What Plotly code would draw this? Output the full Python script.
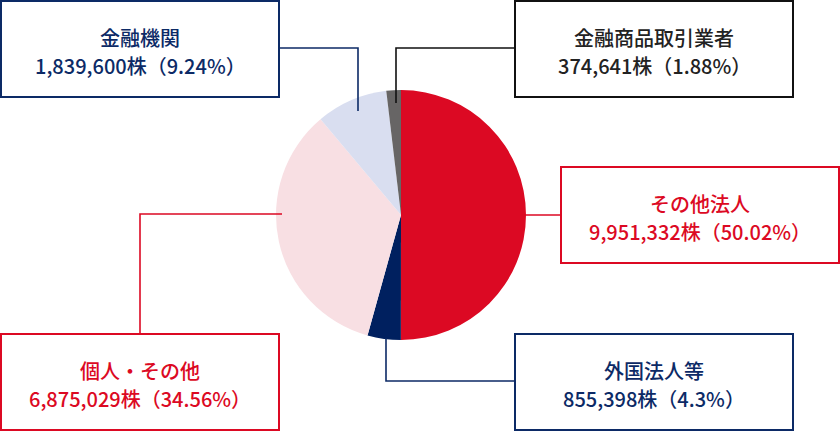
import plotly.graph_objects as go

categories = ["その他法人", "外国法人等", "個人・その他", "金融機関", "金融商品取引業者"]
shares = [9951332, 855398, 6875029, 1839600, 374641]
percent_labels = ["50.02%", "4.3%", "34.56%", "9.24%", "1.88%"]

slice_colors = ["#dc0923", "#00205f", "#f8dfe3", "#d9def0", "#676565"]
text_colors = ["#dc0923", "#0c2a66", "#dc0923", "#0c2a66", "#222222"]
border_colors = ["#dc0923", "#0c2a66", "#dc0923", "#0c2a66", "#111111"]

W, H = 840, 431
cx, cy, r = 401, 215, 125

def px(x):
    return x / W

def py(y):
    return 1 - y / H

fig = go.Figure()
fig.add_trace(go.Pie(
    labels=categories,
    values=shares,
    sort=False,
    direction="clockwise",
    rotation=0,
    marker=dict(colors=slice_colors, line=dict(width=0)),
    textinfo="none",
    hoverinfo="label+value+percent",
    domain=dict(x=[px(cx - r), px(cx + r)], y=[py(cy + r), py(cy - r)]),
    showlegend=False,
))

# box geometry (pixels): x0, y0, x1, y1
boxes = [
    (561, 167, 839, 263),   # その他法人
    (515, 334, 793, 430),   # 外国法人等
    (1, 334, 279, 430),     # 個人・その他
    (1, 1, 279, 97),        # 金融機関
    (515, 1, 793, 97),      # 金融商品取引業者
]
# connector paths (pixels)
connectors = [
    [(520, 215), (561, 215)],
    [(386, 338), (386, 381), (515, 381)],
    [(140, 334), (140, 214), (282, 214)],
    [(279, 48), (358, 48), (358, 111)],
    [(515, 48), (396, 48), (396, 103)],
]

shapes = []
for (x0, y0, x1, y1), bc in zip(boxes, border_colors):
    shapes.append(dict(type="rect", xref="paper", yref="paper",
                       x0=px(x0), x1=px(x1), y0=py(y1), y1=py(y0),
                       line=dict(color=bc, width=2), fillcolor="rgba(0,0,0,0)"))
for pts, bc in zip(connectors, border_colors):
    path = "M " + " L ".join(f"{px(x)},{py(y)}" for x, y in pts)
    shapes.append(dict(type="path", xref="paper", yref="paper", path=path,
                       line=dict(color=bc, width=1.6)))

annotations = []
font_family = "Noto Sans CJK JP"
for cat, val, pct, (x0, y0, x1, y1), tc in zip(categories, shares, percent_labels, boxes, text_colors):
    mx = (x0 + x1) / 2
    my = (y0 + y1) / 2
    annotations.append(dict(text=cat, x=px(mx), y=py(my - 11.5), xref="paper", yref="paper",
                            showarrow=False, xanchor="center", yanchor="middle",
                            font=dict(family=font_family, size=20, color=tc, weight=500)))
    annotations.append(dict(text=f"{val:,}株（{pct}）", x=px(mx), y=py(my + 16.5), xref="paper", yref="paper",
                            showarrow=False, xanchor="center", yanchor="middle",
                            font=dict(family=font_family, size=20, color=tc, weight=500)))

fig.update_layout(
    width=W, height=H,
    margin=dict(l=0, r=0, t=0, b=0),
    paper_bgcolor="white", plot_bgcolor="white",
    shapes=shapes, annotations=annotations,
)

fig.write_html("out.html", config={"displayModeBar": False},
               post_script="document.body.style.margin='0';document.body.style.overflow='hidden';")
